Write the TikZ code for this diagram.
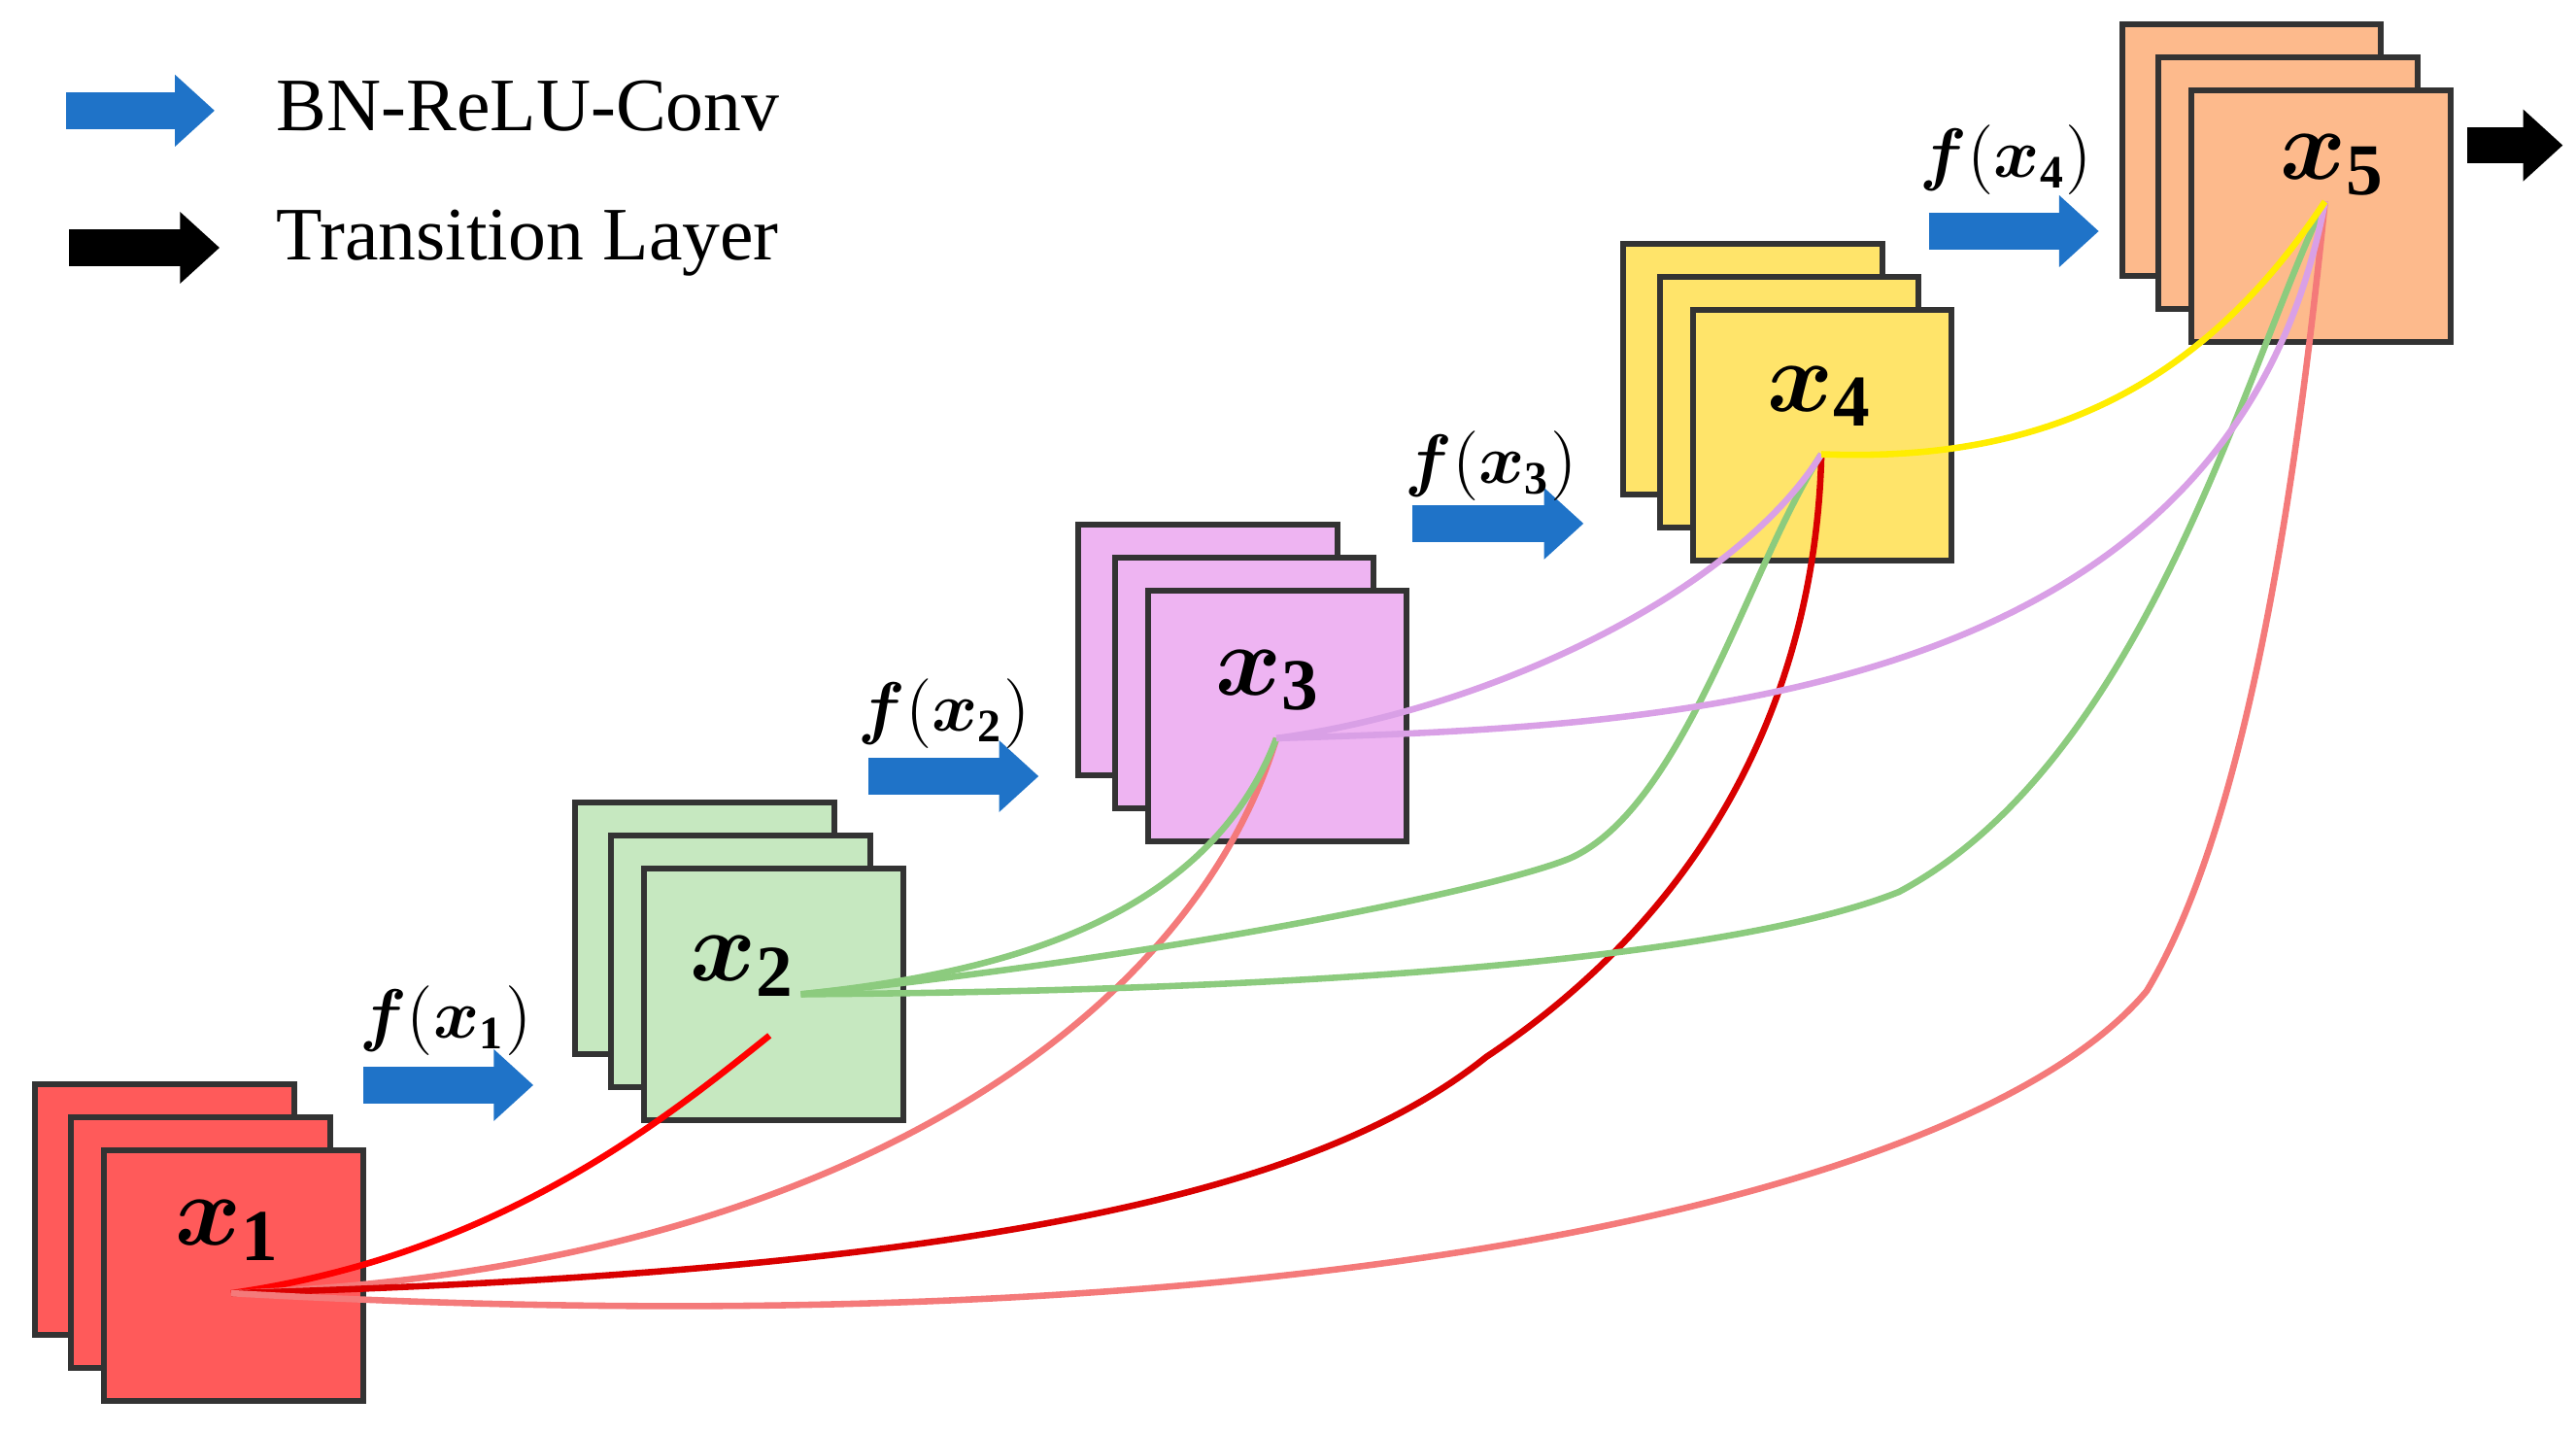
\documentclass[tikz,border=0pt]{standalone}
\usepackage{amsmath,bm}
\usepackage{fontspec}
\setmainfont{Liberation Serif}
\usetikzlibrary{arrows.meta}
\definecolor{cr}{HTML}{FF5A5A}
\definecolor{cg}{HTML}{C6E8C0}
\definecolor{cv}{HTML}{EEB4F2}
\definecolor{cy}{HTML}{FFE46A}
\definecolor{co}{HTML}{FDBA8C}
\definecolor{cb}{HTML}{1F73C8}
\definecolor{lr}{HTML}{F47A7A}
\definecolor{lg}{HTML}{8CCB7E}
\definecolor{lv}{HTML}{D9A0E6}
\tikzset{
 sq/.style={draw=black!80,line width=1pt,minimum width=1.57cm,minimum height=1.52cm,inner sep=0},
 fat/.style={line width=0.22cm,-{Triangle[length=0.24cm,width=0.42cm]}},
 lab/.style={font=\fontsize{18}{22}\selectfont},
 flab/.style={font=\fontsize{12}{14}\selectfont},
 leg/.style={font=\fontsize{13}{16}\selectfont,anchor=west},
 con/.style={line width=1.1pt}
}
\newcommand{\stackof}[4]{% name, color, x, y (front center)
 \node[sq,fill=#2] (#1c) at (#3-0.42,#4+0.40) {};
 \node[sq,fill=#2] (#1b) at (#3-0.20,#4+0.20) {};
 \node[sq,fill=#2] (#1) at (#3,#4) {};
}
\newcommand{\fatarrow}[4]{% name, color, x1, x2, y
 \coordinate (#1s) at (#3);
 \coordinate (#1e) at (#4);
 \draw[fat,#2] (#1s) -- (#1e);
}
\begin{document}
\begin{tikzpicture}[x=1cm,y=1cm]
\useasboundingbox (0,0) rectangle (15.6,-8.676);
\stackof{s1}{cr}{1.415}{-7.725}
\stackof{s2}{cg}{4.685}{-6.02}
\stackof{s3}{cv}{7.735}{-4.335}
\stackof{s4}{cy}{11.035}{-2.635}
\stackof{s5}{co}{14.055}{-1.31}
\coordinate (p1) at (1.40,-7.83);
\coordinate (p2) at (4.85,-6.02);
\coordinate (p2e) at (4.66,-6.27);
\coordinate (p3) at (7.73,-4.47);
\coordinate (p4) at (11.03,-2.75);
\coordinate (p5) at (14.08,-1.22);
\draw[con,red] (p1) .. controls (3.0,-7.6) and (4.0,-6.8) .. (p2e);
\draw[con,lr] (p1) .. controls (5.0,-7.7) and (7.2,-6.2) .. (p3);
\draw[con,red!85!black] (p1) .. controls (6.0,-7.7) and (8.0,-7.2) .. (9.0,-6.4) .. controls (10.5,-5.4) and (11.0,-4.0) .. (p4);
\draw[con,lr] (p1) .. controls (8.0,-8.2) and (12.0,-7.2) .. (13.0,-6.0) .. controls (13.6,-5.0) and (13.9,-3.0) .. (p5);
\draw[con,lg] (p2) .. controls (6.0,-5.9) and (7.3,-5.6) .. (p3);
\draw[con,lg] (p2) .. controls (7.0,-5.8) and (9.0,-5.4) .. (9.5,-5.2) .. controls (10.2,-4.9) and (10.6,-3.4) .. (p4);
\draw[con,lg] (p2) .. controls (8.0,-6.0) and (10.5,-5.8) .. (11.5,-5.4) .. controls (13.0,-4.6) and (13.6,-2.2) .. (p5);
\draw[con,lv] (p3) .. controls (9.0,-4.3) and (10.5,-3.6) .. (p4);
\draw[con,lv] (p3) .. controls (10.0,-4.4) and (13.5,-4.3) .. (p5);
\draw[con,yellow!95!orange] (p4) .. controls (12.3,-2.8) and (13.3,-2.4) .. (p5);
\node[lab] (l1) at (1.38,-7.45) {$\bm{x}_{\mathbf{1}}$};
\node[lab] (l2) at (4.50,-5.85) {$\bm{x}_{\mathbf{2}}$};
\node[lab] (l3) at (7.68,-4.12) {$\bm{x}_{\mathbf{3}}$};
\node[lab] (l4) at (11.02,-2.40) {$\bm{x}_{\mathbf{4}}$};
\node[lab] (l5) at (14.13,-1.00) {$\bm{x}_{\mathbf{5}}$};
\fatarrow{a1}{cb}{2.20,-6.57}{3.23,-6.57}
\fatarrow{a2}{cb}{5.26,-4.70}{6.29,-4.70}
\fatarrow{a3}{cb}{8.55,-3.17}{9.59,-3.17}
\fatarrow{a4}{cb}{11.68,-1.40}{12.71,-1.40}
\node[flab] (f1) at (2.70,-6.18) {$\bm{f}(\bm{x}_{\mathbf 1})$};
\node[flab] (f2) at (5.72,-4.32) {$\bm{f}(\bm{x}_{\mathbf 2})$};
\node[flab] (f3) at (9.03,-2.82) {$\bm{f}(\bm{x}_{\mathbf 3})$};
\node[flab] (f4) at (12.15,-0.97) {$\bm{f}(\bm{x}_{\mathbf 4})$};
\fatarrow{out}{black}{14.94,-0.88}{15.52,-0.88}
\fatarrow{lg1}{cb}{0.40,-0.67}{1.30,-0.67}
\node[leg] (t1) at (1.55,-0.64) {BN-ReLU-Conv};
\fatarrow{lg2}{black}{0.42,-1.50}{1.33,-1.50}
\node[leg] (t2) at (1.55,-1.47) {Transition Layer};
\end{tikzpicture}
\end{document}
